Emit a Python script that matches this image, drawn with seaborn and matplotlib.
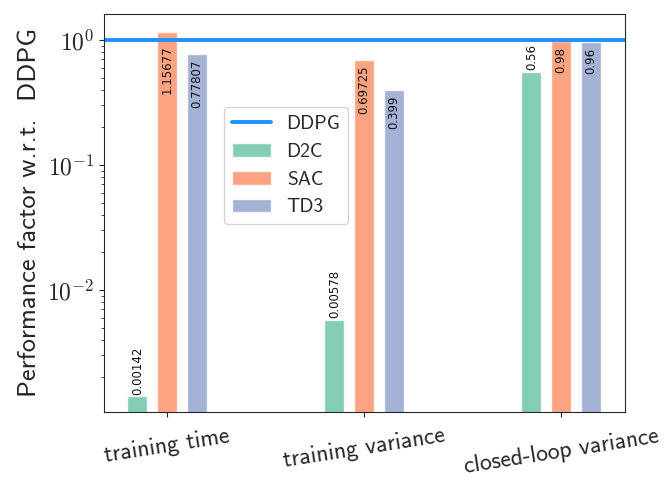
import pandas as pd
import seaborn as sns
import matplotlib.pyplot as plt
from matplotlib.ticker import FuncFormatter, LogLocator
import numpy as np

# values (performance relative to DDPG)
metrics = ['training time', 'training variance', 'closed-loop variance']
methods = ['D2C', 'SAC', 'TD3']
d2c = [0.00142, 0.00578, 0.56]
sac = [1.15677, 0.69725, 0.98]
td3 = [0.77807, 0.399, 0.96]
ddpg_ref = 1.0

df = pd.DataFrame({
    'metric': metrics * 3,
    'method': ['D2C'] * 3 + ['SAC'] * 3 + ['TD3'] * 3,
    'value': d2c + sac + td3,
})

sns.set_style('ticks')
plt.rcParams['font.family'] = ['cmss10', 'DejaVu Sans']
plt.rcParams['mathtext.fontset'] = 'cm'

fig = plt.figure(figsize=(6.68, 4.83), dpi=100)
ax = fig.add_axes([0.156, 0.147, 0.780, 0.824])

sns.barplot(data=df, x='metric', y='value', hue='method', hue_order=methods,
            palette='Set2', saturation=1, alpha=0.8, width=0.456, gap=0.34, ax=ax)
ax.set_yscale('log')
line = ax.axhline(ddpg_ref, color='#1e90ff', lw=2.8, label='DDPG')

# value labels, rotated
for cont, name in zip(ax.containers, methods):
    for bar in cont:
        v = bar.get_height()
        x = bar.get_x() + bar.get_width() / 2
        if name == 'D2C':
            ax.annotate(str(v), (x, v), xytext=(0, 1), textcoords='offset points',
                        rotation=90, ha='center', va='bottom', fontsize=8.5,
                        family='DejaVu Sans', color='#111111')
        else:
            ax.annotate(str(v), (x, min(v, ddpg_ref)), xytext=(0, -4),
                        textcoords='offset points', rotation=90, ha='center',
                        va='top', fontsize=8.5, family='DejaVu Sans', color='#111111')

ax.set_ylim(1.057e-3, 1.615)
ax.set_xlim(-0.32, 2.325)
ax.yaxis.set_major_locator(LogLocator(base=10))
ax.yaxis.set_major_formatter(FuncFormatter(lambda v, p: r'$10^{%d}$' % round(np.log10(v))))
ax.set_xlabel('')
ax.set_ylabel('Performance factor w.r.t.  DDPG', fontsize=19)
ax.tick_params(axis='y', labelsize=17)
ax.tick_params(axis='x', labelsize=17, pad=6)
for lab in ax.get_xticklabels():
    lab.set_rotation(9)
    lab.set_ha('center')

handles, labels = ax.get_legend_handles_labels()
bar_h = [h for h, l in zip(handles, labels) if l in methods]
ax.legend([line] + bar_h, ['DDPG'] + methods, loc='upper left',
          bbox_to_anchor=(0.212, 0.79), fontsize=14, handlelength=2.0,
          frameon=True)

fig.savefig('out.png', dpi=100)
